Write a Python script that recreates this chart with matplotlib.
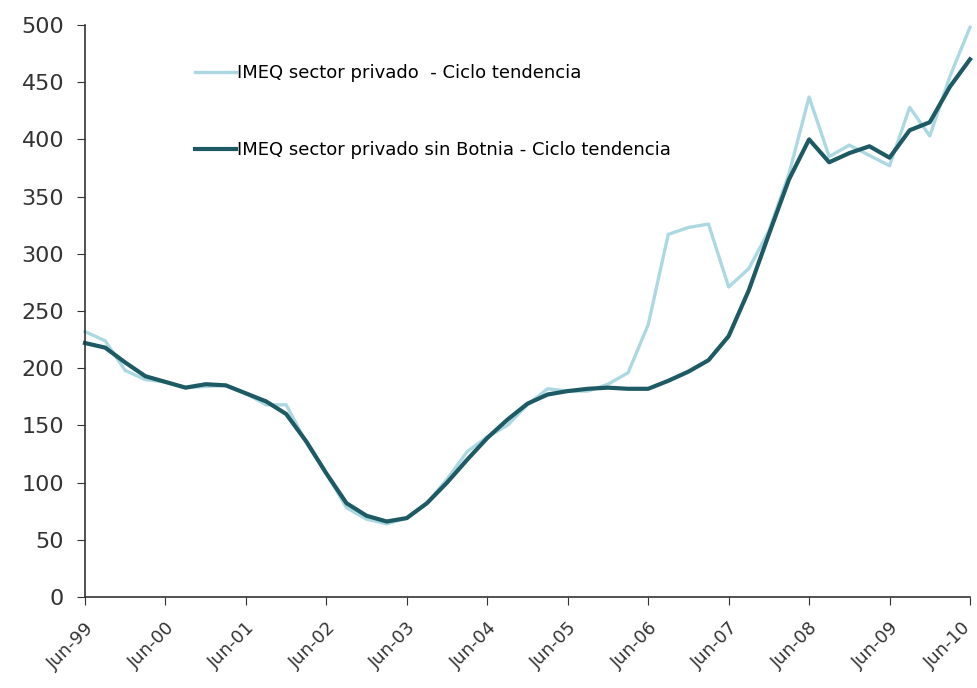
import numpy as np
import matplotlib
matplotlib.use('Agg')
import matplotlib.pyplot as plt
from matplotlib.transforms import ScaledTranslation

# quarterly, Jun-99 .. Jun-10
quarters = np.arange(45)
years = ['99', '00', '01', '02', '03', '04', '05', '06', '07', '08', '09', '10']
tick_labels = ['Jun-' + y for y in years]

privado = [232, 224, 198, 190, 188, 183, 184, 185, 178, 168,
           168, 135, 108, 78, 68, 64, 69, 82, 103, 127,
           140, 150, 168, 182, 180, 180, 186, 196, 238, 317,
           323, 326, 271, 287, 320, 370, 437, 385, 395, 386,
           377, 428, 403, 455, 498]

sin_botnia = [222, 218, 205, 193, 188, 183, 186, 185, 178, 171,
              160, 136, 108, 82, 71, 66, 69, 82, 100, 120,
              139, 155, 169, 177, 180, 182, 183, 182, 182, 189,
              197, 207, 228, 268, 317, 365, 400, 380, 388, 394,
              384, 408, 415, 446, 470]

light = '#acd9e1'
dark = '#1d5a63'

fig = plt.figure(figsize=(9.78, 6.88), dpi=100)
ax = fig.add_axes([85/978, 1-597/688, 885/978, 572/688])

ax.plot(quarters, privado, color=light, lw=2.4, clip_on=False,
        label='IMEQ sector privado  - Ciclo tendencia')
ax.plot(quarters, sin_botnia, color=dark, lw=3.0, clip_on=False,
        label='IMEQ sector privado sin Botnia - Ciclo tendencia')

ax.set_xlim(0, 44)
ax.set_ylim(0, 500)
ax.set_yticks(range(0, 501, 50))
ax.set_xticks(range(0, 45, 4))
ax.set_xticklabels(tick_labels, rotation=45, ha='right', rotation_mode='anchor',
                   fontsize=13, color='#333333')
ax.tick_params(axis='y', labelsize=16, labelcolor='#333333', length=6,
               color='#333333', pad=9)
ax.tick_params(axis='x', length=6, color='#333333', pad=10)

# keep the last label inside the canvas
last = ax.get_xticklabels()[-1]
last.set_transform(last.get_transform() + ScaledTranslation(-8/100, 0, fig.dpi_scale_trans))

for s in ['top', 'right']:
    ax.spines[s].set_visible(False)
for s in ['left', 'bottom']:
    ax.spines[s].set_color('#333333')
    ax.spines[s].set_linewidth(1.2)

ax.legend(loc='upper left', bbox_to_anchor=(0.124, 0.932), frameon=False,
          fontsize=13, handlelength=2.3, handletextpad=0.05,
          labelspacing=3.3, borderpad=0, borderaxespad=0)

fig.savefig('out.png', dpi=100)
